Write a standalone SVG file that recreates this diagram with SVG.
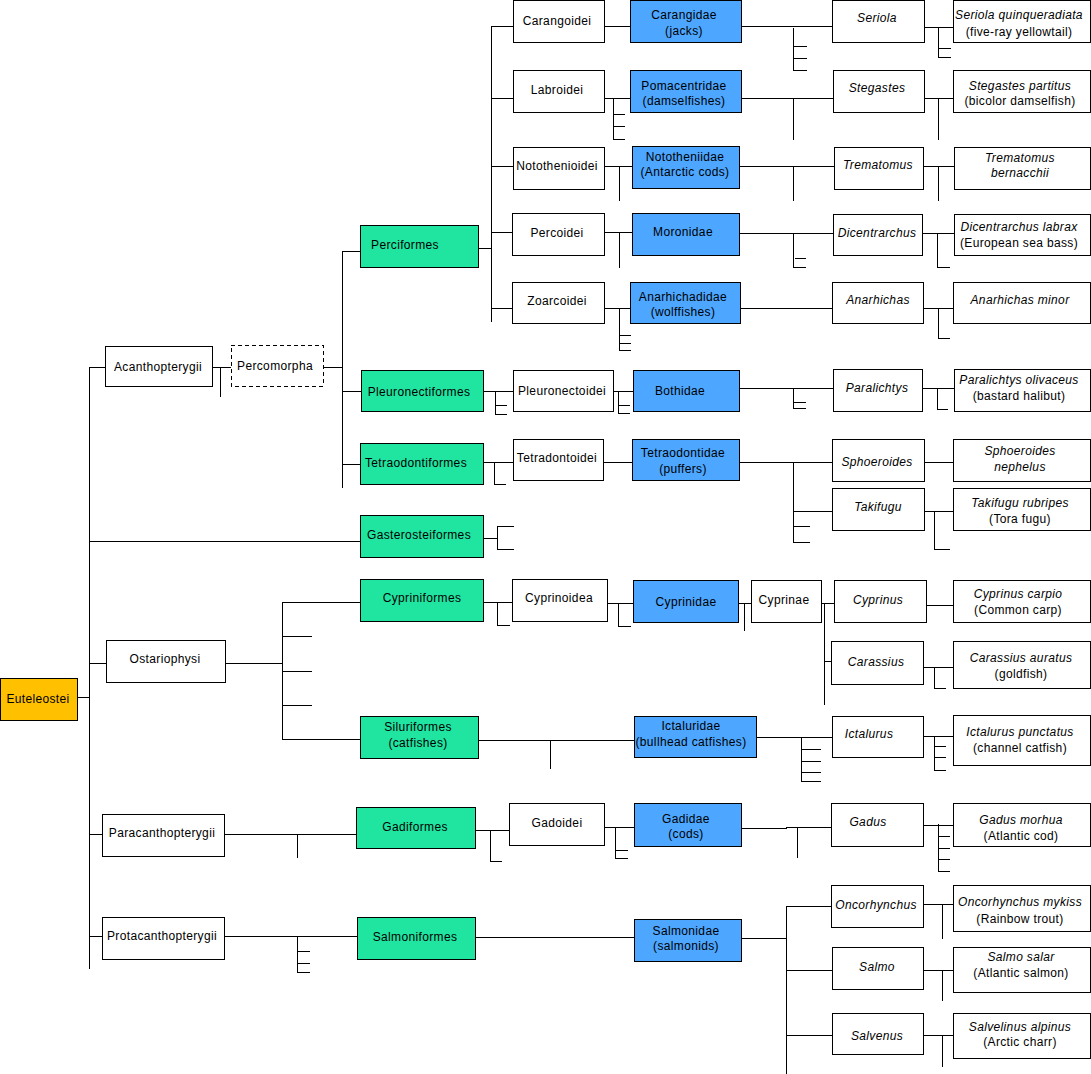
<svg xmlns="http://www.w3.org/2000/svg" width="1091" height="1074" viewBox="0 0 1091 1074">
<style>
.w,.g,.b,.o,.d{stroke:#000;stroke-width:1;shape-rendering:crispEdges}
.w{fill:#fff}.g{fill:#1FE5A1}.b{fill:#4DA6FF}.o{fill:#FFC000}
.d{fill:#fff;stroke-dasharray:4 3}
text{font-family:"Liberation Sans",Arial,sans-serif;font-size:12px;letter-spacing:0.35px;fill:#000;text-anchor:middle}
.i{font-style:italic}
#connectors path{fill:none;stroke:#000;stroke-width:1;shape-rendering:crispEdges}
</style>
<rect x="0" y="0" width="1091" height="1074" fill="#fff"/>
<g id="connectors">
<path d="M77 697H89M89 367V969M89 367H105M212 367H231M220 367V397M323 367H342M342 251V488M342 251H360M342 391H361M342 464H360M89 541H360"/>
<path d="M483 538H497M497 526V549M497 526H514M497 549H514"/>
<path d="M483 391H513M495 391V414M495 405H507M495 414H507M613 391H633M618 391V413M618 405H630M618 413H630"/>
<path d="M739 388H833M793 388V408M793 402H806M793 408H806M922 388H954M937 388V409H948"/>
<path d="M483 462H513M494 462V484H506M603 462H632M739 462H832M793 462V542M793 511H832M793 526H810M793 542H810M924 462H953M924 511H953M934 511V549H950"/>
<path d="M478 248H491M491 26V322M491 26H513M491 98H513M491 166H513M491 232H512M491 308H512"/>
<path d="M604 26H630M741 26H832M793 28V70M793 46H807M793 58H807M793 70H807M924 27H953M938 27V57M938 48H951M938 57H951"/>
<path d="M604 98H630M613 98V139M613 114H625M613 126H625M613 139H625M741 98H833M793 98V140M924 98H953M938 98V140"/>
<path d="M604 166H632M619 166V201M739 166H834M793 166V201M923 166H954M938 166V201"/>
<path d="M604 232H632M619 232V268M739 233H833M793 233V267M795 258H806M793 267H806M922 233H954M937 233V267H950"/>
<path d="M604 308H630M619 308V350M619 335H631M619 343H631M619 350H631M740 308H832M923 308H953M938 308V338H950"/>
<path d="M89 663H106M225 663H282M282 602V739M282 602H360M282 636H312M282 671H312M282 705H312M282 739H360"/>
<path d="M483 602H512M497 602V625H510M607 603H633M618 603V626H631M738 603H751M744 603V631M821 603H834M824 603V705M824 661H831M926 605H953M923 667H953M934 667V688H946"/>
<path d="M478 740H634M550 740V769M756 737H832M801 737V781M801 749H821M801 761H821M801 772H821M801 781H821M923 736H953M934 736V770M934 746H946M934 757H946M934 770H946"/>
<path d="M89 834H102M224 834H356M297 834V858M475 830H509M490 830V861H502M604 827H634M615 827V858M615 850H628M615 858H628M741 828H786V827H831M797 827V858M923 825H953M938 824V871M938 836H950M938 848H950M938 859H950M938 871H950"/>
<path d="M89 936H102M224 936H357M297 936V972M297 951H310M297 963H310M297 972H310M475 937H634M741 938H786M786 906V1074M786 906H831M786 970H832M786 1035H832M923 904H953M942 904V939M923 970H953M942 970V1001M923 1035H953M942 1035V1067"/>
</g>
<g id="n-euteleostei"><rect class="o" x="0" y="678" width="77" height="42"/><text x="38" y="703">Euteleostei</text></g>
<g id="n-acanthopterygii"><rect class="w" x="105" y="346" width="107" height="40"/><text x="158" y="371">Acanthopterygii</text></g>
<g id="n-percomorpha"><rect class="d" x="231" y="345" width="92" height="41"/><text x="275" y="370">Percomorpha</text></g>
<g id="n-perciformes"><rect class="g" x="360" y="225" width="118" height="42"/><text x="405" y="249">Perciformes</text></g>
<g id="n-pleuronectiformes"><rect class="g" x="361" y="370" width="122" height="41"/><text x="419" y="396">Pleuronectiformes</text></g>
<g id="n-tetraodontiformes"><rect class="g" x="360" y="443" width="123" height="41"/><text x="416" y="467">Tetraodontiformes</text></g>
<g id="n-gasterosteiformes"><rect class="g" x="360" y="515" width="123" height="42"/><text x="419" y="539">Gasterosteiformes</text></g>
<g id="n-pleuronectoidei"><rect class="w" x="513" y="370" width="100" height="41"/><text x="562" y="395">Pleuronectoidei</text></g>
<g id="n-bothidae"><rect class="b" x="633" y="370" width="106" height="41"/><text x="680" y="395">Bothidae</text></g>
<g id="n-tetradontoidei"><rect class="w" x="513" y="439" width="90" height="41"/><text x="557" y="462">Tetradontoidei</text></g>
<g id="n-tetraodontidae"><rect class="b" x="632" y="439" width="107" height="41"/><text x="683" y="457">Tetraodontidae</text><text x="683" y="473">(puffers)</text></g>
<g id="n-carangoidei"><rect class="w" x="513" y="0" width="91" height="42"/><text x="557" y="25">Carangoidei</text></g>
<g id="n-carangidae"><rect class="b" x="630" y="0" width="111" height="42"/><text x="684" y="19">Carangidae</text><text x="684" y="35">(jacks)</text></g>
<g id="n-labroidei"><rect class="w" x="513" y="70" width="91" height="42"/><text x="557" y="94">Labroidei</text></g>
<g id="n-pomacentridae"><rect class="b" x="630" y="70" width="111" height="42"/><text x="684" y="90">Pomacentridae</text><text x="684" y="105">(damselfishes)</text></g>
<g id="n-notothenioidei"><rect class="w" x="513" y="147" width="91" height="42"/><text x="557" y="170">Notothenioidei</text></g>
<g id="n-nototheniidae"><rect class="b" x="632" y="146" width="107" height="42"/><text x="685" y="161">Nototheniidae</text><text x="685" y="176">(Antarctic cods)</text></g>
<g id="n-percoidei"><rect class="w" x="512" y="213" width="92" height="42"/><text x="557" y="237">Percoidei</text></g>
<g id="n-moronidae"><rect class="b" x="632" y="213" width="107" height="42"/><text x="683" y="236">Moronidae</text></g>
<g id="n-zoarcoidei"><rect class="w" x="512" y="282" width="92" height="41"/><text x="557" y="305">Zoarcoidei</text></g>
<g id="n-anarhichadidae"><rect class="b" x="630" y="282" width="110" height="41"/><text x="683" y="301">Anarhichadidae</text><text x="683" y="316">(wolffishes)</text></g>
<g id="n-seriola"><rect class="w" x="832" y="0" width="92" height="42"/><text class="i" x="877" y="22">Seriola</text></g>
<g id="n-seriola-q"><rect class="w" x="953" y="0" width="137" height="42"/><text class="i" x="1019" y="19">Seriola quinqueradiata</text><text x="1019" y="36">(five-ray yellowtail)</text></g>
<g id="n-stegastes"><rect class="w" x="833" y="70" width="91" height="42"/><text class="i" x="877" y="92">Stegastes</text></g>
<g id="n-stegastes-p"><rect class="w" x="953" y="70" width="137" height="42"/><text class="i" x="1020" y="90">Stegastes partitus</text><text x="1020" y="105">(bicolor damselfish)</text></g>
<g id="n-trematomus"><rect class="w" x="834" y="147" width="89" height="42"/><text class="i" x="878" y="169">Trematomus</text></g>
<g id="n-trematomus-b"><rect class="w" x="954" y="147" width="136" height="42"/><text class="i" x="1020" y="162">Trematomus</text><text class="i" x="1020" y="177">bernacchii</text></g>
<g id="n-dicentrarchus"><rect class="w" x="833" y="214" width="89" height="41"/><text class="i" x="877" y="237">Dicentrarchus</text></g>
<g id="n-dicentrarchus-l"><rect class="w" x="954" y="214" width="136" height="41"/><text class="i" x="1019" y="231">Dicentrarchus labrax</text><text x="1019" y="247">(European sea bass)</text></g>
<g id="n-anarhichas"><rect class="w" x="832" y="282" width="91" height="41"/><text class="i" x="878" y="304">Anarhichas</text></g>
<g id="n-anarhichas-m"><rect class="w" x="953" y="282" width="137" height="41"/><text class="i" x="1020" y="304">Anarhichas minor</text></g>
<g id="n-paralichtys"><rect class="w" x="833" y="369" width="89" height="42"/><text class="i" x="877" y="392">Paralichtys</text></g>
<g id="n-paralichtys-o"><rect class="w" x="954" y="369" width="136" height="42"/><text class="i" x="1019" y="384">Paralichtys olivaceus</text><text x="1019" y="400">(bastard halibut)</text></g>
<g id="n-sphoeroides"><rect class="w" x="832" y="439" width="92" height="42"/><text class="i" x="877" y="466">Sphoeroides</text></g>
<g id="n-sphoeroides-n"><rect class="w" x="953" y="439" width="137" height="42"/><text class="i" x="1020" y="455">Sphoeroides</text><text class="i" x="1020" y="471">nephelus</text></g>
<g id="n-takifugu"><rect class="w" x="832" y="488" width="92" height="42"/><text class="i" x="878" y="511">Takifugu</text></g>
<g id="n-takifugu-r"><rect class="w" x="953" y="488" width="137" height="42"/><text class="i" x="1020" y="507">Takifugu rubripes</text><text x="1020" y="523">(Tora fugu)</text></g>
<g id="n-ostariophysi"><rect class="w" x="106" y="640" width="119" height="42"/><text x="165" y="663">Ostariophysi</text></g>
<g id="n-cypriniformes"><rect class="g" x="360" y="579" width="123" height="42"/><text x="422" y="602">Cypriniformes</text></g>
<g id="n-siluriformes"><rect class="g" x="360" y="716" width="118" height="42"/><text x="418" y="731">Siluriformes</text><text x="418" y="747">(catfishes)</text></g>
<g id="n-cyprinoidea"><rect class="w" x="512" y="579" width="95" height="42"/><text x="559" y="602">Cyprinoidea</text></g>
<g id="n-cyprinidae"><rect class="b" x="633" y="580" width="105" height="42"/><text x="686" y="606">Cyprinidae</text></g>
<g id="n-cyprinae"><rect class="w" x="751" y="580" width="70" height="42"/><text x="784" y="604">Cyprinae</text></g>
<g id="n-cyprinus"><rect class="w" x="834" y="580" width="92" height="42"/><text class="i" x="878" y="604">Cyprinus</text></g>
<g id="n-cyprinus-c"><rect class="w" x="953" y="580" width="137" height="42"/><text class="i" x="1018" y="598">Cyprinus carpio</text><text x="1018" y="614">(Common carp)</text></g>
<g id="n-carassius"><rect class="w" x="831" y="641" width="92" height="43"/><text class="i" x="876" y="666">Carassius</text></g>
<g id="n-carassius-a"><rect class="w" x="953" y="641" width="137" height="47"/><text class="i" x="1021" y="662">Carassius auratus</text><text x="1021" y="678">(goldfish)</text></g>
<g id="n-ictaluridae"><rect class="b" x="634" y="716" width="122" height="41"/><text x="691" y="730">Ictaluridae</text><text x="691" y="746">(bullhead catfishes)</text></g>
<g id="n-ictalurus"><rect class="w" x="832" y="716" width="91" height="41"/><text class="i" x="869" y="738">Ictalurus</text></g>
<g id="n-ictalurus-p"><rect class="w" x="953" y="715" width="137" height="50"/><text class="i" x="1020" y="736">Ictalurus punctatus</text><text x="1020" y="752">(channel catfish)</text></g>
<g id="n-paracanthopterygii"><rect class="w" x="102" y="814" width="122" height="42"/><text x="162" y="837">Paracanthopterygii</text></g>
<g id="n-gadiformes"><rect class="g" x="356" y="807" width="119" height="41"/><text x="415" y="831">Gadiformes</text></g>
<g id="n-gadoidei"><rect class="w" x="509" y="803" width="95" height="42"/><text x="557" y="827">Gadoidei</text></g>
<g id="n-gadidae"><rect class="b" x="634" y="803" width="107" height="43"/><text x="686" y="823">Gadidae</text><text x="686" y="838">(cods)</text></g>
<g id="n-gadus"><rect class="w" x="831" y="803" width="92" height="43"/><text class="i" x="868" y="826">Gadus</text></g>
<g id="n-gadus-m"><rect class="w" x="953" y="803" width="137" height="43"/><text class="i" x="1021" y="824">Gadus morhua</text><text x="1021" y="840">(Atlantic cod)</text></g>
<g id="n-protacanthopterygii"><rect class="w" x="102" y="917" width="122" height="42"/><text x="162" y="940">Protacanthopterygii</text></g>
<g id="n-salmoniformes"><rect class="g" x="357" y="917" width="118" height="42"/><text x="415" y="941">Salmoniformes</text></g>
<g id="n-salmonidae"><rect class="b" x="634" y="919" width="107" height="42"/><text x="686" y="935">Salmonidae</text><text x="686" y="950">(salmonids)</text></g>
<g id="n-oncorhynchus"><rect class="w" x="831" y="885" width="92" height="42"/><text class="i" x="876" y="909">Oncorhynchus</text></g>
<g id="n-oncorhynchus-m"><rect class="w" x="953" y="885" width="137" height="46"/><text class="i" x="1020" y="906">Oncorhynchus mykiss</text><text x="1020" y="923">(Rainbow trout)</text></g>
<g id="n-salmo"><rect class="w" x="832" y="947" width="91" height="42"/><text class="i" x="877" y="971">Salmo</text></g>
<g id="n-salmo-s"><rect class="w" x="953" y="947" width="137" height="45"/><text class="i" x="1021" y="961">Salmo salar</text><text x="1021" y="977">(Atlantic salmon)</text></g>
<g id="n-salvenus"><rect class="w" x="832" y="1013" width="91" height="41"/><text class="i" x="877" y="1040">Salvenus</text></g>
<g id="n-salvelinus-a"><rect class="w" x="953" y="1013" width="137" height="45"/><text class="i" x="1020" y="1031">Salvelinus alpinus</text><text x="1020" y="1046">(Arctic charr)</text></g>
</svg>
